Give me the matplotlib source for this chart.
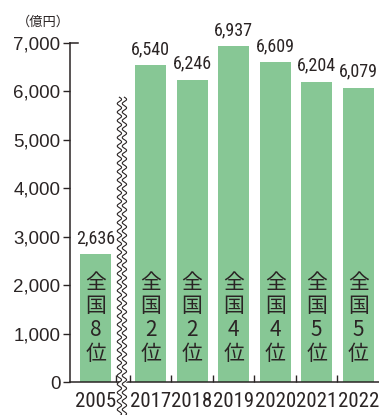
import matplotlib
matplotlib.use('Agg')
import matplotlib.pyplot as plt
import matplotlib.transforms as mtransforms
import matplotlib.font_manager as fm
import numpy as np

# data
years = ['2005', '2017', '2018', '2019', '2020', '2021', '2022']
values = [2636, 6540, 6246, 6937, 6609, 6204, 6079]
ranks = ['8', '2', '2', '4', '4', '5', '5']
y_ticks = [0, 1000, 2000, 3000, 4000, 5000, 6000, 7000]
unit_label = '（億円）'

# pick a narrow family for the numbers if one is around
installed = set(f.name for f in fm.fontManager.ttflist)
narrow = None
for name in ['Roboto Condensed', 'Liberation Sans Narrow', 'Open Sans Condensed']:
    if name in installed:
        narrow = name
        break

# layout
gap_2005 = 1.325          # 2005 bar sits a bit further left (axis break)
xpos = [-gap_2005] + list(range(len(years) - 1))
bar_w = 0.75
green = '#87c795'
ink = '#2a2424'
cjk_font = ['Noto Sans CJK JP', 'DejaVu Sans']
if narrow:
    num_font = [narrow, 'DejaVu Sans']
    val_size, year_size = 13, 15
else:
    num_font = ['Liberation Sans', 'DejaVu Sans']
    val_size, year_size = 11, 12.2

fig = plt.figure(figsize=(3.79, 4.15), dpi=100)
ax = fig.add_axes([70 / 379, 33 / 415, 309 / 379, 339 / 415])

ax.bar(xpos, values, width=bar_w, color=green, zorder=2)

# value labels above bars
for x, v in zip(xpos, values):
    ax.annotate(f'{v:,}', (x, v), xytext=(0, 5), textcoords='offset points',
                ha='center', va='bottom', fontsize=val_size, family=num_font,
                color=ink)

# vertical rank text inside bars
for x, r in zip(xpos, ranks):
    ax.text(x, 1320, '\n'.join(['全', '国', r, '位']), ha='center',
            va='center', fontsize=15, family=cjk_font, color=ink,
            linespacing=1.1, zorder=3)

ax.set_xlim(-1.94, 5.5)
ax.set_ylim(0, 7000)
ax.set_yticks(y_ticks)
ax.set_yticklabels([f'{t:,}' for t in y_ticks], family=['Liberation Sans', 'DejaVu Sans'],
                   fontsize=13.5, color=ink)
ax.tick_params(axis='y', length=5, width=1, color=ink, pad=2)

ax.set_xticks(xpos)
ax.set_xticklabels(years, family=num_font, fontsize=year_size, color=ink)
ax.tick_params(axis='x', length=0, pad=7)
# small inward ticks at the bar boundaries
bounds = [xpos[0] + 0.5, -0.5] + [i + 0.5 for i in range(len(years) - 2)]
ax.set_xticks(bounds, minor=True)
ax.tick_params(axis='x', which='minor', direction='in', length=5, width=1,
               color=ink)

for s in ['top', 'right']:
    ax.spines[s].set_visible(False)
for s in ['left', 'bottom']:
    ax.spines[s].set_color(ink)
    ax.spines[s].set_linewidth(1.1)

# cap at the top of the y axis
ax.plot([0, 0.026], [1, 1], transform=ax.transAxes, color=ink, lw=1.1,
        clip_on=False)

# axis break (double wavy line)
trans = mtransforms.blended_transform_factory(ax.transData, ax.transAxes)
px = 1 / 41.5
yy = np.linspace(-0.1, 0.84, 400)
wave = 2.2 * px * np.sin(yy * 339 / 8.5 * 2 * np.pi)
xc = -0.69
ax.fill_betweenx(yy, xc - 2.5 * px + wave, xc + 2.5 * px + wave,
                 color='white', transform=trans, clip_on=False, zorder=4)
ax.plot(xc - 2.5 * px + wave, yy, color=ink, lw=0.8, transform=trans,
        clip_on=False, zorder=5)
ax.plot(xc + 2.5 * px + wave, yy, color=ink, lw=0.8, transform=trans,
        clip_on=False, zorder=5)

fig.text(43 / 379, 1 - 22.5 / 415, unit_label, ha='center', va='center',
         fontsize=9.5, family=cjk_font, color=ink)

fig.savefig('out.png', dpi=100)
